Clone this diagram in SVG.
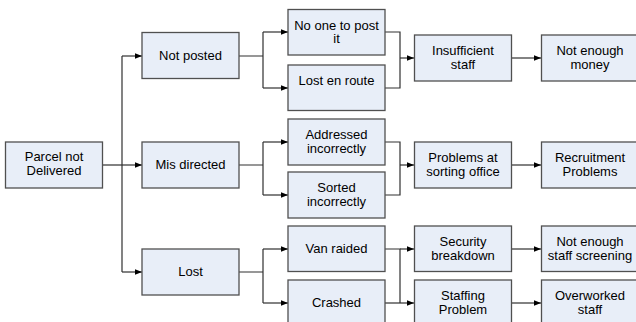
<svg xmlns="http://www.w3.org/2000/svg" width="636" height="322" viewBox="0 0 636 322">
<defs>
<style>
.box{fill:#E8EEF8;stroke:#505050;stroke-width:1.3}
.t{font-family:"Liberation Sans",Arial,sans-serif;font-size:13px;fill:#000;text-anchor:middle}
.c{fill:none;stroke:#303030;stroke-width:1.2}
</style>
<marker id="ah" viewBox="0 0 10 10" refX="10" refY="5" markerWidth="8" markerHeight="7" markerUnits="userSpaceOnUse" orient="auto">
<path d="M0,1 L10,5 L0,9 z" fill="#000"/>
</marker>
</defs>
<rect width="636" height="322" fill="#fff"/>
<g id="connectors">
<path class="c" d="M102,165 H122"/>
<path class="c" d="M122,56 V272"/>
<path class="c" d="M122,56 H142" marker-end="url(#ah)"/>
<path class="c" d="M122,165 H142" marker-end="url(#ah)"/>
<path class="c" d="M122,272 H142" marker-end="url(#ah)"/>
<path class="c" d="M239,56 H263 M263,32 V88"/>
<path class="c" d="M263,32 H288" marker-end="url(#ah)"/>
<path class="c" d="M263,88 H288" marker-end="url(#ah)"/>
<path class="c" d="M239,165 H263 M263,142 V195"/>
<path class="c" d="M263,142 H288" marker-end="url(#ah)"/>
<path class="c" d="M263,195 H288" marker-end="url(#ah)"/>
<path class="c" d="M239,272 H263 M263,249 V303"/>
<path class="c" d="M263,249 H288" marker-end="url(#ah)"/>
<path class="c" d="M263,303 H288" marker-end="url(#ah)"/>
<path class="c" d="M385,32 H400 V88 H385"/>
<path class="c" d="M400,58 H414" marker-end="url(#ah)"/>
<path class="c" d="M385,142 H400 V195 H385"/>
<path class="c" d="M400,165 H414" marker-end="url(#ah)"/>
<path class="c" d="M385,249 H400 V303"/>
<path class="c" d="M400,249 H414" marker-end="url(#ah)"/>
<path class="c" d="M385,303 H414" marker-end="url(#ah)"/>
<path class="c" d="M512,58 H541" marker-end="url(#ah)"/>
<path class="c" d="M512,165 H541" marker-end="url(#ah)"/>
<path class="c" d="M512,249 H541" marker-end="url(#ah)"/>
<path class="c" d="M512,303 H541" marker-end="url(#ah)"/>
</g>
<g id="parcel"><rect class="box" x="5.5" y="142" width="97" height="46"/><text class="t" x="54" y="161">Parcel not</text><text class="t" x="54" y="175">Delivered</text></g>
<g id="notposted"><rect class="box" x="142" y="32.5" width="97" height="46"/><text class="t" x="190.5" y="60">Not posted</text></g>
<g id="misdirected"><rect class="box" x="142" y="142" width="97" height="46"/><text class="t" x="190.5" y="169">Mis directed</text></g>
<g id="lost"><rect class="box" x="142" y="249" width="97" height="46"/><text class="t" x="190.5" y="276">Lost</text></g>
<g id="noone"><rect class="box" x="288" y="9.5" width="97" height="45.5"/><text class="t" x="336.5" y="29.5">No one to post</text><text class="t" x="336.5" y="43">it</text></g>
<g id="losten"><rect class="box" x="288" y="65" width="97" height="45.5"/><text class="t" x="336.5" y="85">Lost en route</text></g>
<g id="addressed"><rect class="box" x="288" y="119" width="97" height="46"/><text class="t" x="336.5" y="138.5">Addressed</text><text class="t" x="336.5" y="152.5">incorrectly</text></g>
<g id="sorted"><rect class="box" x="288" y="172" width="97" height="46"/><text class="t" x="336.5" y="191.5">Sorted</text><text class="t" x="336.5" y="205.5">incorrectly</text></g>
<g id="van"><rect class="box" x="288" y="226" width="97" height="45.5"/><text class="t" x="336.5" y="253">Van raided</text></g>
<g id="crashed"><rect class="box" x="288" y="280" width="97" height="46"/><text class="t" x="336.5" y="307">Crashed</text></g>
<g id="insufficient"><rect class="box" x="414.5" y="35" width="97" height="46"/><text class="t" x="463" y="55">Insufficient</text><text class="t" x="463" y="69">staff</text></g>
<g id="problems"><rect class="box" x="414.5" y="142" width="97" height="46"/><text class="t" x="463" y="161.5">Problems at</text><text class="t" x="463" y="175.5">sorting office</text></g>
<g id="security"><rect class="box" x="414.5" y="226" width="97" height="45.5"/><text class="t" x="463" y="245.5">Security</text><text class="t" x="463" y="259.5">breakdown</text></g>
<g id="staffing"><rect class="box" x="414.5" y="280" width="97" height="46"/><text class="t" x="463" y="299.5">Staffing</text><text class="t" x="463" y="313.5">Problem</text></g>
<g id="money"><rect class="box" x="541.5" y="35" width="97" height="46"/><text class="t" x="590" y="55">Not enough</text><text class="t" x="590" y="69">money</text></g>
<g id="recruitment"><rect class="box" x="541.5" y="142" width="97" height="46"/><text class="t" x="590" y="161.5">Recruitment</text><text class="t" x="590" y="175.5">Problems</text></g>
<g id="screening"><rect class="box" x="541.5" y="226" width="97" height="45.5"/><text class="t" x="590" y="245.5">Not enough</text><text class="t" x="590" y="259.5">staff screening</text></g>
<g id="overworked"><rect class="box" x="541.5" y="280" width="97" height="46"/><text class="t" x="590" y="299.5">Overworked</text><text class="t" x="590" y="313.5">staff</text></g>
</svg>
